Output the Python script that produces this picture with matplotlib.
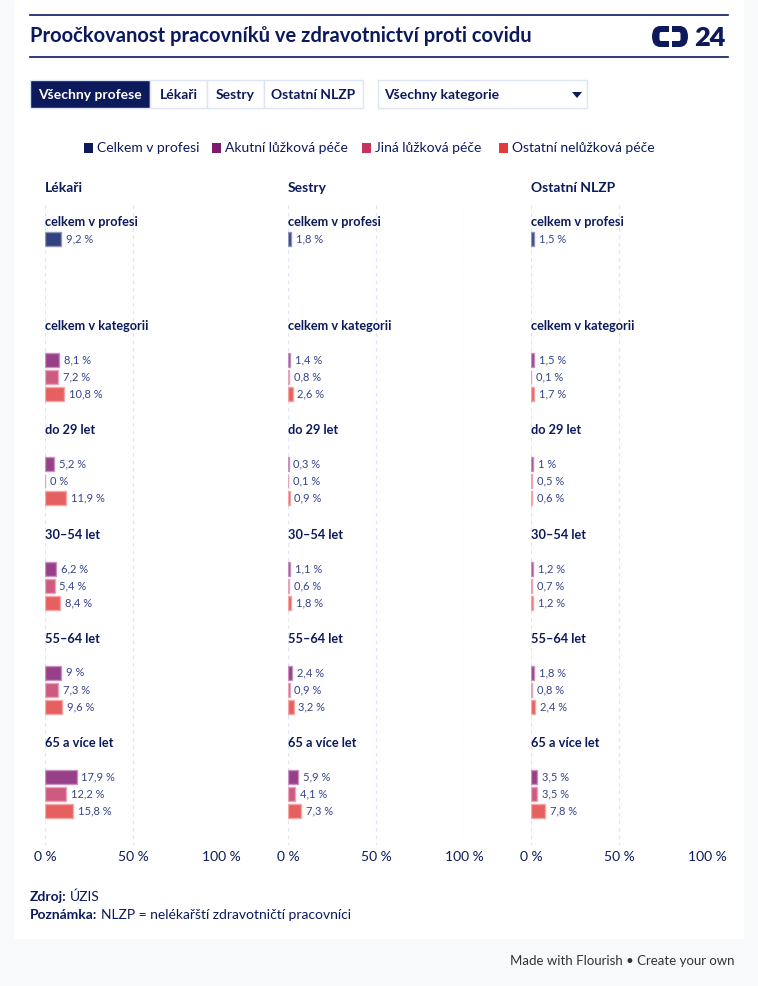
import matplotlib.pyplot as plt
from matplotlib.patches import Rectangle, FancyBboxPatch, Polygon

W, H = 758, 986

professions = ['Lékaři', 'Sestry', 'Ostatní NLZP']
groups = ['celkem v profesi', 'celkem v kategorii', 'do 29 let', '30–54 let', '55–64 let', '65 a více let']
series = ['Celkem v profesi', 'Akutní lůžková péče', 'Jiná lůžková péče', 'Ostatní nelůžková péče']
buttons = ['Všechny profese', 'Lékaři', 'Sestry', 'Ostatní NLZP']

# celkem v profesi (one per profession)
celkem = [9.2, 1.8, 1.5]
# remaining groups: celkem v kategorii, do 29, 30-54, 55-64, 65+
lekari_akutni = [8.1, 5.2, 6.2, 9, 17.9]
lekari_jina = [7.2, 0, 5.4, 7.3, 12.2]
lekari_ostatni = [10.8, 11.9, 8.4, 9.6, 15.8]
sestry_akutni = [1.4, 0.3, 1.1, 2.4, 5.9]
sestry_jina = [0.8, 0.1, 0.6, 0.9, 4.1]
sestry_ostatni = [2.6, 0.9, 1.8, 3.2, 7.3]
nlzp_akutni = [1.5, 1, 1.2, 1.8, 3.5]
nlzp_jina = [0.1, 0.5, 0.7, 0.8, 3.5]
nlzp_ostatni = [1.7, 0.6, 1.2, 2.4, 7.8]

cat_values = [
    [lekari_akutni, lekari_jina, lekari_ostatni],
    [sestry_akutni, sestry_jina, sestry_ostatni],
    [nlzp_akutni, nlzp_jina, nlzp_ostatni],
]

legend_colors = ['#0c1a5c', '#7d1b6c', '#c3355f', '#e23a3d']
bar_colors = ['#34417f', '#983f8a', '#cf5a80', '#e6605f']
edge_colors = ['#8e96bb', '#c691bd', '#e6a3ba', '#f2a7a6']
navy = '#0c1a5c'
label_col = '#36448a'
grid_col = '#dde5f7'

plt.rcParams['font.family'] = ['Lato', 'DejaVu Sans']

fig = plt.figure(figsize=(W / 100, H / 100), dpi=100)
fig.patch.set_facecolor('#f8f9fb')


def fx(x):
    return x / W


def fy(y):
    return 1 - y / H


def ftext(x, y, s, **kw):
    fig.text(fx(x), fy(y), s, **kw)


def frect(x, y, w, h, **kw):
    # rectangle given by top-left corner in pixels
    fig.add_artist(Rectangle((fx(x), fy(y + h)), fx(w), h / H, transform=fig.transFigure, **kw))


# white card
frect(14, 0, 730, 939, facecolor='white', edgecolor='none', zorder=0)

# header
for yy in (15, 57):
    fig.add_artist(plt.Line2D([fx(30), fx(728)], [fy(yy), fy(yy)], transform=fig.transFigure,
                              color=navy, lw=1.2))
ftext(30, 36, 'Proočkovanost pracovníků ve zdravotnictví proti covidu', fontsize=14.5,
      fontweight='bold', color=navy, va='center')

# logo
fig.add_artist(FancyBboxPatch((fx(652), fy(47)), fx(36), 21 / H, boxstyle='round,pad=0,rounding_size=0.011',
                              transform=fig.transFigure, facecolor=navy, edgecolor='none'))
fig.add_artist(FancyBboxPatch((fx(659.5), fy(41)), fx(21), 9 / H, boxstyle='round,pad=0,rounding_size=0.002',
                              transform=fig.transFigure, facecolor='white', edgecolor='none'))
frect(668.5, 25, 3, 23, facecolor='white', edgecolor='none')
ftext(709.5, 37.5, '24', fontsize=19.5, fontweight='heavy', color=navy, va='center', ha='center')

# buttons
bx = [30, 150, 207, 264, 363]
for i, name in enumerate(buttons):
    sel = i == 0
    frect(bx[i], 80, bx[i + 1] - bx[i], 28, facecolor=navy if sel else 'white', edgecolor='#dde4f3', lw=1)
    ftext((bx[i] + bx[i + 1]) / 2, 95, name, fontsize=10, fontweight='bold',
          color='white' if sel else navy, ha='center', va='center')
frect(378, 80, 209, 28, facecolor='white', edgecolor='#dde4f3', lw=1)
ftext(384, 95, 'Všechny kategorie', fontsize=10, fontweight='bold', color=navy, va='center')
fig.add_artist(Polygon([(fx(572), fy(92)), (fx(582), fy(92)), (fx(577), fy(98))], closed=True,
                       transform=fig.transFigure, facecolor=navy, edgecolor='none'))

# legend
lx = [84, 212, 362, 499]
for i, name in enumerate(series):
    frect(lx[i], 143, 9, 10, facecolor=legend_colors[i], edgecolor='none')
    ftext(lx[i] + 13, 148, name, fontsize=10, color=navy, va='center')

# panels
ticks = [0, 50, 100]
for k, prof in enumerate(professions):
    left = 45 + 243 * k
    ax = fig.add_axes([fx(left), fy(850), fx(176), 650 / H])
    ax.set_xlim(0, 100)
    ax.set_ylim(850, 200)
    ax.axis('off')
    ax.vlines(ticks, 205, 845, colors=grid_col, lw=0.9, linestyles=(0, (3, 3)), zorder=0)
    for t in ticks:
        ax.text(t, 857, f'{t} %', ha='center', va='center', fontsize=10, color=navy)
    ax.text(0, 188, prof, fontsize=10, fontweight='bold', color=navy, va='center')

    for g, gname in enumerate(groups):
        gy = 222 + 104.2 * g
        ax.text(0, gy, gname, fontsize=9.2, fontweight='bold', color=navy, va='center')
        if g == 0:
            vals = [celkem[k]]
            slots = [0]
        else:
            vals = [cat_values[k][s][g - 1] for s in range(3)]
            slots = [1, 2, 3]
        for v, s in zip(vals, slots):
            y = gy + 17 * (s + 1)
            ax.barh(y, v, height=14, color=bar_colors[s], edgecolor=edge_colors[s], lw=1, zorder=2)
            txt = f'{v:g}'.replace('.', ',') + ' %'
            ax.annotate(txt, (v, y), xytext=(3.5, 0), textcoords='offset points',
                        va='center', ha='left', fontsize=8, color=label_col)

# footer notes
ftext(30, 897, 'Zdroj:', fontsize=10, fontweight='bold', color=navy, va='center')
ftext(70, 897, 'ÚZIS', fontsize=10, color=navy, va='center')
ftext(30, 915, 'Poznámka:', fontsize=10, fontweight='bold', color=navy, va='center')
ftext(101, 915, 'NLZP = nelékařští zdravotničtí pracovníci', fontsize=10, color=navy, va='center')

ftext(735, 961, 'Made with Flourish • Create your own', fontsize=9.5, color='#333333', ha='right', va='center')

fig.savefig('out.png', dpi=100)
